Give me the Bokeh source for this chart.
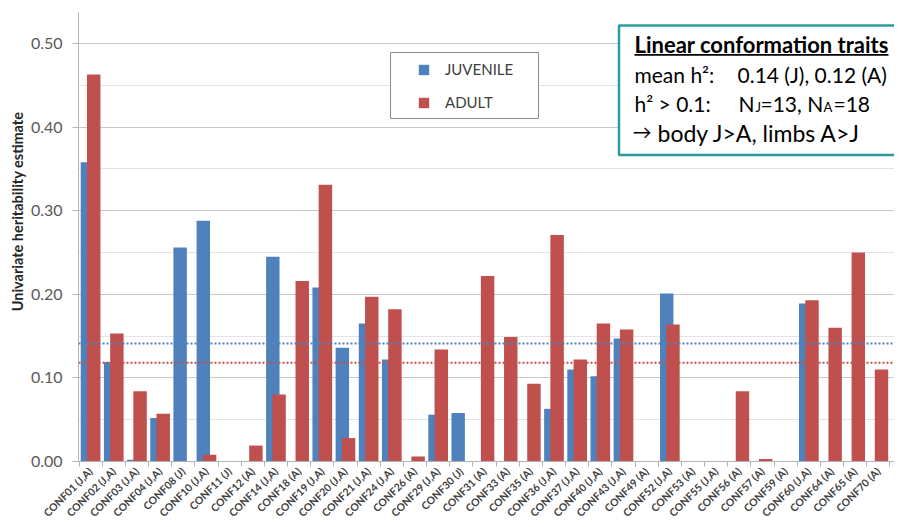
import math
import numpy as np
from bokeh.plotting import figure
from bokeh.models import (ColumnDataSource, Range1d, FixedTicker, PrintfTickFormatter,
                          Legend, LegendItem, BoxAnnotation, Label)
from bokeh.transform import dodge
from bokeh.embed import file_html
from bokeh.resources import INLINE

# ---------------- data ----------------
traits = ["CONF01 (J,A)", "CONF02 (J,A)", "CONF03 (J,A)", "CONF04 (J,A)", "CONF08 (J)",
          "CONF10 (J,A)", "CONF11 (J)", "CONF12 (A)", "CONF14 (J,A)", "CONF18 (A)",
          "CONF19 (J,A)", "CONF20 (J,A)", "CONF21 (J,A)", "CONF24 (J,A)", "CONF26 (A)",
          "CONF29 (J,A)", "CONF30 (J)", "CONF31 (A)", "CONF33 (A)", "CONF35 (A)",
          "CONF36 (J,A)", "CONF37 (J,A)", "CONF40 (J,A)", "CONF43 (J,A)", "CONF49 (A)",
          "CONF52 (J,A)", "CONF53 (A)", "CONF55 (J,A)", "CONF56 (A)", "CONF57 (A)",
          "CONF59 (A)", "CONF60 (J,A)", "CONF64 (A)", "CONF65 (A)", "CONF70 (A)",
          "CONF71 (A)"]

juvenile = [0.358, 0.119, 0.002, 0.052, 0.256,
            0.288, 0.0, None, 0.245, None,
            0.208, 0.136, 0.165, 0.122, None,
            0.056, 0.058, None, None, None,
            0.063, 0.110, 0.102, 0.147, None,
            0.201, None, 0.0, None, None,
            None, 0.189, None, None, None,
            None]

adult = [0.463, 0.153, 0.084, 0.057, None,
         0.008, None, 0.019, 0.080, 0.216,
         0.331, 0.028, 0.197, 0.182, 0.006,
         0.134, None, 0.222, 0.149, 0.093,
         0.271, 0.122, 0.165, 0.158, 0.0,
         0.164, 0.0, 0.0, 0.084, 0.003,
         0.0, 0.193, 0.160, 0.250, 0.110,
         0.0]

mean_juvenile = 0.141
mean_adult = 0.118

y_ticks = [0.0, 0.1, 0.2, 0.3, 0.4, 0.5]
y_minor_ticks = [0.05, 0.15, 0.25, 0.35, 0.45]

# ---------------- layout / styling ----------------
BLUE = "#4F81BD"
RED = "#C0504D"
AXIS_GRAY = "#b3b3b3"
TEXT_GRAY = "#404040"
FONT = "Lato"

W, H = 894, 519
CAT_PX = 23.17          # pixel width of one category
AXIS_PX = 78.0          # canvas x of the value axis
ZERO_PY = 461.0         # canvas y of value 0
TOP_PY = 12.0           # canvas y of the top of the value axis
PX_PER_UNIT = 836.1     # pixels per 1.0 of heritability

x_axis_pos = -0.5 - 0.5 / CAT_PX
x_start = -0.5 - (AXIS_PX + 0.5) / CAT_PX
x_end = x_start + W / CAT_PX
y_end = ZERO_PY / PX_PER_UNIT
y_axis_top = (ZERO_PY - TOP_PY) / PX_PER_UNIT
y_start = -(H - ZERO_PY) / PX_PER_UNIT

n = len(traits)
src = ColumnDataSource(dict(
    idx=np.arange(n),
    juvenile=np.array([np.nan if v is None else v for v in juvenile], dtype=float),
    adult=np.array([np.nan if v is None else v for v in adult], dtype=float),
))

# The frame covers the whole canvas; both axes are pinned inside it so that the
# slanted category labels and the value labels are not clipped.
p = figure(width=W, height=H, output_backend="svg", toolbar_location=None,
           x_range=Range1d(x_start, x_end), y_range=Range1d(y_start, y_end),
           min_border_left=0, min_border_right=0, min_border_top=0, min_border_bottom=0)
p.outline_line_color = None
p.background_fill_color = "white"
p.border_fill_color = "white"

rj = p.vbar(x=dodge("idx", -0.135), top="juvenile", width=0.58, source=src,
            fill_color=BLUE, line_color=None)
ra = p.vbar(x=dodge("idx", 0.135), top="adult", width=0.58, source=src,
            fill_color=RED, line_color=None)

# mean lines (from the value axis to the right edge)
p.segment(x0=[x_axis_pos], x1=[x_end], y0=[mean_juvenile], y1=[mean_juvenile],
          line_color=BLUE, line_width=2, line_dash="2 2")
p.segment(x0=[x_axis_pos], x1=[x_end], y0=[mean_adult], y1=[mean_adult],
          line_color=RED, line_width=2, line_dash="2 2")

# x axis
p.xaxis.fixed_location = 0
p.xaxis.bounds = (x_axis_pos, x_end)
p.xaxis.ticker = FixedTicker(ticks=list(range(n)),
                             minor_ticks=[i - 0.5 for i in range(n + 1)])
p.xaxis.major_label_overrides = {i: t for i, t in enumerate(traits)}
p.xaxis.major_label_orientation = math.pi / 4
p.xaxis.major_tick_line_color = None
p.xaxis.major_tick_in = 0
p.xaxis.major_tick_out = 0
p.xaxis.minor_tick_in = 0
p.xaxis.minor_tick_out = 5
p.xaxis.minor_tick_line_color = AXIS_GRAY
p.xaxis.axis_line_color = AXIS_GRAY
p.xaxis.major_label_text_font = FONT
p.xaxis.major_label_text_font_style = "bold"
p.xaxis.major_label_text_font_size = "10.5px"
p.xaxis.major_label_text_color = TEXT_GRAY
p.xaxis.major_label_standoff = 3
p.xgrid.visible = False

# y axis
p.yaxis.fixed_location = x_axis_pos
p.yaxis.bounds = (0, y_axis_top)
p.yaxis.ticker = FixedTicker(ticks=y_ticks, minor_ticks=y_minor_ticks)
p.yaxis.formatter = PrintfTickFormatter(format="%.2f")
p.yaxis.major_tick_in = 0
p.yaxis.major_tick_out = 6
p.yaxis.major_tick_line_color = AXIS_GRAY
p.yaxis.minor_tick_line_color = None
p.yaxis.axis_line_color = AXIS_GRAY
p.yaxis.major_label_text_font = FONT
p.yaxis.major_label_text_font_size = "16px"
p.yaxis.major_label_text_color = "#595959"
p.yaxis.major_label_standoff = 10
p.ygrid.grid_line_color = "#c8c8c8"
p.ygrid.minor_grid_line_color = "#e3e3e3"

# keep the grid lines out of the label margin on the left
p.add_layout(BoxAnnotation(left=0, right=AXIS_PX, top=0, bottom=H,
                           left_units="canvas", right_units="canvas",
                           top_units="canvas", bottom_units="canvas",
                           fill_color="white", fill_alpha=1, line_color=None,
                           level="underlay"))

# y axis title
p.add_layout(Label(x=17, y=211, x_units="canvas", y_units="canvas",
                   text="Univariate heritability estimate", angle=math.pi / 2,
                   text_align="center", text_baseline="middle", text_font=FONT,
                   text_font_style="bold", text_font_size="14.5px", text_color="#262626"))


def cbox(left, right, top, bottom, **kw):
    return BoxAnnotation(left=left, right=right, top=top, bottom=bottom,
                         left_units="canvas", right_units="canvas",
                         top_units="canvas", bottom_units="canvas", **kw)


# legend frame + legend
p.add_layout(cbox(390, 538, 52, 118, fill_color="white", fill_alpha=1,
                  line_color="#8c8c8c", line_width=1, line_alpha=1))
legend = Legend(items=[LegendItem(label="JUVENILE", renderers=[rj]),
                       LegendItem(label="ADULT", renderers=[ra])],
                location=(417, 408), glyph_width=13, glyph_height=13, label_height=18,
                label_standoff=15, spacing=15, padding=0, margin=0,
                border_line_color=None, background_fill_alpha=0,
                label_text_font=FONT, label_text_font_size="15px",
                label_text_color=TEXT_GRAY)
p.add_layout(legend)

# annotation box
TEAL = "#2a9c9e"
p.add_layout(cbox(618.5, 930, 25, 154.5, fill_color="white", fill_alpha=1,
                  line_color=TEAL, line_width=2.5, line_alpha=1))


def txt(x, y, s, size="21px", style="normal"):
    p.add_layout(Label(x=x, y=y, x_units="canvas", y_units="canvas", text=s,
                       text_align="left", text_baseline="alphabetic", text_font=FONT,
                       text_font_size=size, text_font_style=style, text_color="black"))


txt(634, 44, "Linear conformation traits", size="22px", style="bold")
p.add_layout(cbox(634, 888, 53.4, 55.2, fill_color="black", fill_alpha=1, line_color=None))
txt(634, 74, "mean h²:")
txt(737, 74, "0.14 (J), 0.12 (A)")
txt(634, 103, "h² > 0.1:")
txt(738, 103, "N")
txt(755, 106.5, "J", size="13px")
txt(760, 103, "=13, N")
txt(823, 106.5, "A", size="13px")
txt(833, 103, "=18")
txt(632, 131, "\u2192", size="19px")
txt(657, 132, "body J>A, limbs A>J", size="23px")

open("out.html", "w").write(file_html(p, INLINE))
